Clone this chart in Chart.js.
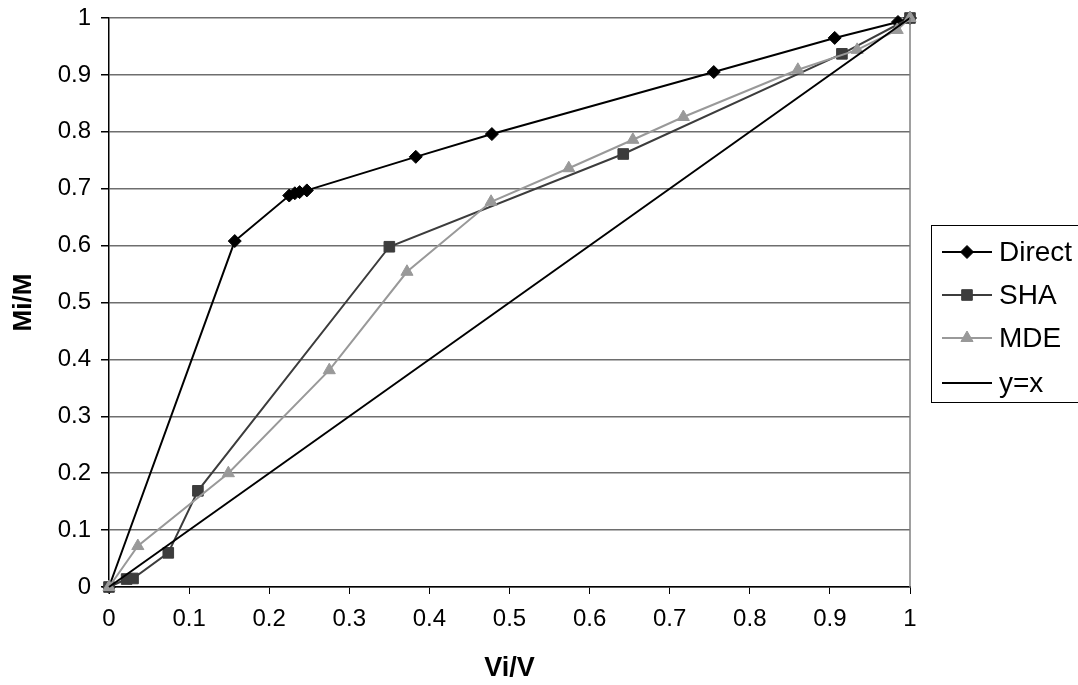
<!DOCTYPE html>
<html>
<head>
<meta charset="utf-8">
<title>Mi/M vs Vi/V</title>
<script src="https://cdn.jsdelivr.net/npm/chart.js@4.4.1/dist/chart.umd.min.js"></script>
<style>
  html, body { margin: 0; padding: 0; background: #fff; }
  #wrap { width: 1078px; height: 685px; position: relative; }
</style>
</head>
<body>
<div id="wrap"><canvas id="curveChart"></canvas></div>
<script>
// curve points (x = Vi/V, y = Mi/M)
const directX = [0, 0.157, 0.225, 0.232, 0.238, 0.247, 0.383, 0.478, 0.755, 0.906, 0.985, 1];
const directY = [0, 0.608, 0.688, 0.692, 0.694, 0.697, 0.756, 0.796, 0.905, 0.965, 0.993, 1];

const shaX = [0, 0.022, 0.030, 0.074, 0.111, 0.350, 0.642, 0.915, 1];
const shaY = [0, 0.014, 0.015, 0.060, 0.169, 0.598, 0.761, 0.937, 1];

const mdeX = [0, 0.036, 0.149, 0.275, 0.372, 0.477, 0.574, 0.654, 0.717, 0.860, 0.934, 0.984, 1];
const mdeY = [0, 0.072, 0.200, 0.381, 0.554, 0.677, 0.736, 0.786, 0.826, 0.909, 0.944, 0.979, 1];

const diagX = [0, 1];
const diagY = [0, 1];

const seriesNames = ['Direct', 'SHA', 'MDE', 'y=x'];
const axisTicks = [0, 0.1, 0.2, 0.3, 0.4, 0.5, 0.6, 0.7, 0.8, 0.9, 1];

const FONT = "'Liberation Sans', Arial, sans-serif";

function toPoints(xs, ys) {
    return xs.map((x, i) => ({ x: x, y: ys[i] }));
}

const styles = [
    { color: '#000000', point: 'rectRot', radius: 6.5 },
    { color: '#3c3c3c', point: 'rect', radius: 7.5 },
    { color: '#999999', point: 'triangle', radius: 7 },
    { color: '#000000', point: false, radius: 0 }
];

const allData = [
    toPoints(directX, directY),
    toPoints(shaX, shaY),
    toPoints(mdeX, mdeY),
    toPoints(diagX, diagY)
];

const datasets = seriesNames.map((name, i) => ({
    label: name,
    data: allData[i],
    showLine: true,
    tension: 0,
    borderColor: styles[i].color,
    backgroundColor: styles[i].color,
    borderWidth: 2,
    pointStyle: styles[i].point,
    pointRadius: styles[i].radius,
    pointBorderWidth: 1,
    pointBackgroundColor: styles[i].color,
    pointBorderColor: styles[i].color,
    clip: false,
    order: 4 - i
}));

// right-hand frame line and the boxed legend on the right side
const frameAndLegend = {
    id: 'frameAndLegend',
    afterDatasetsDraw(chart) {
        const ctx = chart.ctx;
        const area = chart.chartArea;
        ctx.save();
        ctx.strokeStyle = '#808080';
        ctx.lineWidth = 1.5;
        ctx.beginPath();
        ctx.moveTo(area.right, area.top);
        ctx.lineTo(area.right, area.bottom);
        ctx.stroke();
        ctx.restore();
    },
    afterDraw(chart) {
        const ctx = chart.ctx;
        const left = 931, top = 225, bottom = 402;
        const rowY = [252, 295, 338, 383];
        ctx.save();
        ctx.fillStyle = '#ffffff';
        ctx.fillRect(left, top, 200, bottom - top);
        ctx.strokeStyle = '#000000';
        ctx.lineWidth = 1;
        ctx.strokeRect(left + 0.5, top + 0.5, 200, bottom - top);
        ctx.font = '28px ' + FONT;
        ctx.textBaseline = 'middle';
        ctx.textAlign = 'left';
        seriesNames.forEach((name, i) => {
            const y = rowY[i];
            const st = styles[i];
            ctx.strokeStyle = st.color;
            ctx.lineWidth = 2;
            ctx.beginPath();
            ctx.moveTo(942, y);
            ctx.lineTo(992, y);
            ctx.stroke();
            if (st.point) {
                ctx.fillStyle = st.color;
                ctx.strokeStyle = st.color;
                ctx.lineWidth = 1;
                Chart.helpers.drawPoint(ctx, { pointStyle: st.point, radius: st.radius, borderWidth: 1 }, 967, y);
            }
            ctx.fillStyle = '#000000';
            ctx.fillText(name, 999, y + 1);
        });
        ctx.restore();
    }
};

new Chart(document.getElementById('curveChart').getContext('2d'), {
    type: 'scatter',
    data: { datasets: datasets },
    options: {
        responsive: true,
        maintainAspectRatio: false,
        animation: false,
        layout: {
            padding: { left: 0, right: 168, top: 18, bottom: 0 }
        },
        scales: {
            x: {
                type: 'linear',
                min: 0,
                max: 1,
                afterBuildTicks: (scale) => { scale.ticks = axisTicks.map(v => ({ value: v })); },
                afterFit: (scale) => { scale.height = 98; },
                ticks: {
                    color: '#000',
                    font: { family: FONT, size: 24 },
                    padding: 11,
                    maxRotation: 0,
                    callback: (v) => String(Number(v.toFixed(1)))
                },
                grid: {
                    drawOnChartArea: false,
                    drawTicks: true,
                    tickLength: 7,
                    color: '#000'
                },
                border: { color: '#000', width: 1.5 },
                title: {
                    display: true,
                    text: 'Vi/V',
                    color: '#000',
                    font: { family: FONT, size: 27, weight: 'bold' },
                    padding: { top: 0, bottom: 0 }
                }
            },
            y: {
                type: 'linear',
                min: 0,
                max: 1,
                afterBuildTicks: (scale) => { scale.ticks = axisTicks.map(v => ({ value: v })); },
                afterFit: (scale) => {
                    scale.width = 109;
                    // let the layout padding alone decide the top edge
                    scale.paddingTop = 0;
                    scale.paddingBottom = 0;
                },
                ticks: {
                    color: '#000',
                    font: { family: FONT, size: 24 },
                    padding: 10,
                    callback: (v) => String(Number(v.toFixed(1)))
                },
                grid: {
                    color: '#6e6e6e',
                    lineWidth: 1.5,
                    drawTicks: true,
                    tickLength: 8,
                    tickColor: '#000'
                },
                border: { color: '#000', width: 1.5 },
                title: {
                    display: true,
                    text: 'Mi/M',
                    color: '#000',
                    font: { family: FONT, size: 26, weight: 'bold' },
                    padding: { top: 8, bottom: 0 }
                }
            }
        },
        plugins: {
            legend: { display: false },
            tooltip: { enabled: false }
        }
    },
    plugins: [frameAndLegend]
});
</script>
</body>
</html>
